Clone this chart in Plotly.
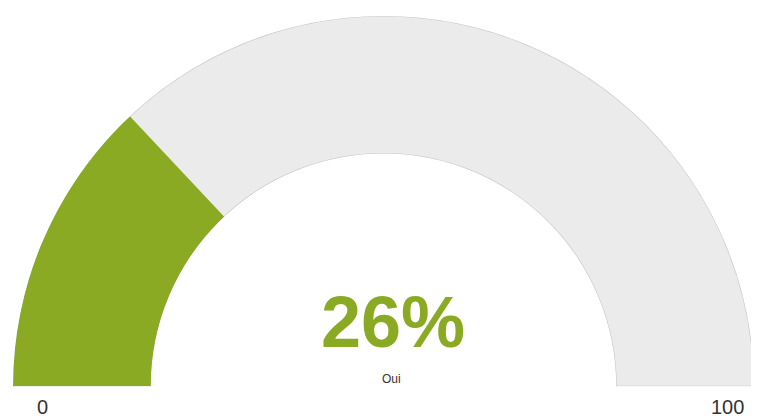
import plotly.graph_objects as go

# Data
value = 26
gauge_min = 0
gauge_max = 100
label = "Oui"
tick_labels = ["0", "100"]

GREEN = "#8AAA23"
GRAY = "#EBEBEB"
BORDER = "#C8C8C8"

OFF = 8  # page body margin
W, H = 759 - OFF, 417 - OFF
ML, MR, MT, MB = 5, 5, 7, 30
PW, PH = W - ML - MR, H - MT - MB

def px_x(x):
    return (x - OFF - ML) / PW

def px_y(y):
    return (H - MB - (y - OFF)) / PH

span = 180.0
frac = (value - gauge_min) / (gauge_max - gauge_min)

fig = go.Figure()
fig.add_trace(go.Barpolar(
    r=[1], theta=[span / 2], width=[span], base=0,
    marker=dict(color=GRAY, line=dict(color=BORDER, width=1.2)),
    hoverinfo="skip", showlegend=False,
))
fig.add_trace(go.Barpolar(
    r=[1], theta=[frac * span / 2], width=[frac * span], base=0,
    marker=dict(color=GREEN, line=dict(color=GREEN, width=0)),
    hoverinfo="skip", showlegend=False,
))

fig.update_layout(
    width=W, height=H,
    margin=dict(l=ML, r=MR, t=MT, b=MB),
    paper_bgcolor="white",
    plot_bgcolor="white",
    polar=dict(
        sector=[0, 180],
        hole=0.628,
        bgcolor="white",
        barmode="overlay",
        domain=dict(x=[0, 1], y=[0, 1]),
        angularaxis=dict(visible=False, direction="clockwise", rotation=180,
                         showgrid=False, showline=False),
        radialaxis=dict(visible=False, range=[0, 1], showgrid=False, showline=False),
    ),
    font=dict(family="Liberation Sans, Arial, sans-serif"),
    annotations=[
        dict(text=f"<b>{value}%</b>", x=px_x(393), y=px_y(322), xref="paper", yref="paper",
             showarrow=False, xanchor="center", yanchor="middle",
             font=dict(size=72, color=GREEN, family="Liberation Sans, Arial, sans-serif")),
        dict(text=label, x=px_x(391), y=px_y(379), xref="paper", yref="paper",
             showarrow=False, xanchor="center", yanchor="middle",
             font=dict(size=12, color="#333333")),
        dict(text=tick_labels[0], x=px_x(42), y=px_y(407), xref="paper", yref="paper",
             showarrow=False, xanchor="center", yanchor="middle",
             font=dict(size=20, color="#333333")),
        dict(text=tick_labels[1], x=px_x(727.5), y=px_y(407), xref="paper", yref="paper",
             showarrow=False, xanchor="center", yanchor="middle",
             font=dict(size=20, color="#333333")),
    ],
)

fig.write_html("out.html")
